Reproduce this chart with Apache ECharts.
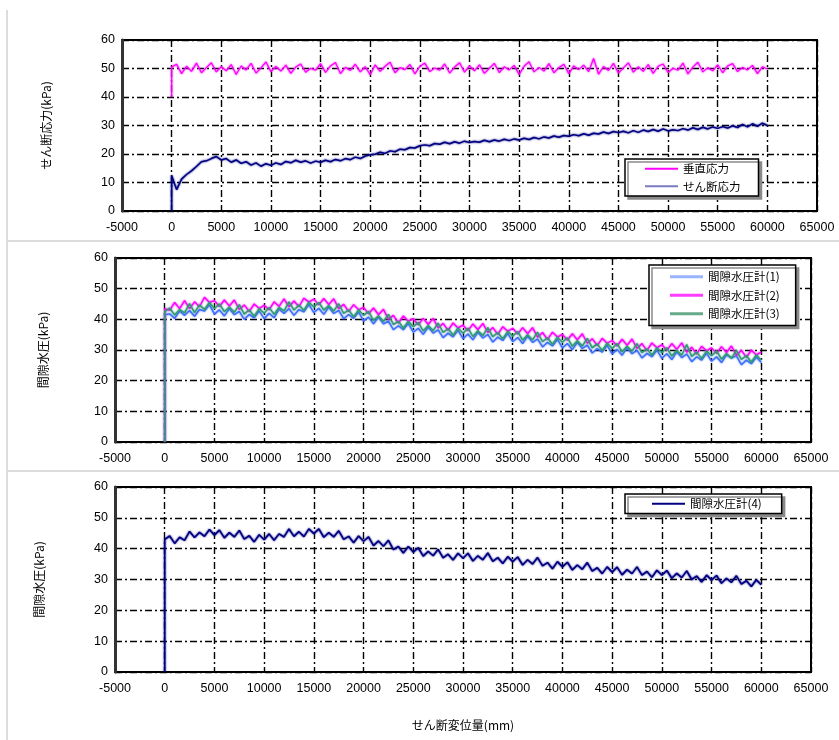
<!DOCTYPE html>
<html><head><meta charset="utf-8">
<script src="https://cdn.jsdelivr.net/npm/echarts@6/dist/echarts.min.js"></script>
<style>html,body{margin:0;padding:0;background:#fff}#c{width:839px;height:740px}</style>
</head><body><div id="c"></div>
<script>
// shear displacement (mm); first two points are the start of loading at 0 mm
const disp = [0, 0,
  500,1000,1500,2000,2500,3000,3500,4000,4500,5000,
  5500,6000,6500,7000,7500,8000,8500,9000,9500,10000,
  10500,11000,11500,12000,12500,13000,13500,14000,14500,15000,
  15500,16000,16500,17000,17500,18000,18500,19000,19500,20000,
  20500,21000,21500,22000,22500,23000,23500,24000,24500,25000,
  25500,26000,26500,27000,27500,28000,28500,29000,29500,30000,
  30500,31000,31500,32000,32500,33000,33500,34000,34500,35000,
  35500,36000,36500,37000,37500,38000,38500,39000,39500,40000,
  40500,41000,41500,42000,42500,43000,43500,44000,44500,45000,
  45500,46000,46500,47000,47500,48000,48500,49000,49500,50000,
  50500,51000,51500,52000,52500,53000,53500,54000,54500,55000,
  55500,56000,56500,57000,57500,58000,58500,59000,59500,60000];

const verticalStress = [40, 50.5,
  51.5,48.2,50.8,49.0,51.9,48.5,50.3,52.0,48.8,50.6,
  49.2,51.4,47.9,50.9,49.5,51.8,48.4,50.2,52.3,48.9,
  50.7,49.1,51.2,48.3,50.5,51.6,48.7,50.1,49.4,51.7,
  48.6,50.9,52.1,48.2,50.4,49.3,51.5,48.8,50.6,47.8,
  51.3,49.0,50.8,52.2,48.5,50.3,49.6,51.4,48.1,50.7,
  51.9,48.9,50.2,49.4,51.6,48.4,50.5,52.0,48.7,50.9,
  49.2,51.3,48.3,50.1,51.8,48.6,50.6,49.5,51.1,47.9,
  50.8,52.4,48.8,50.4,49.1,51.7,48.5,50.3,51.5,48.2,
  50.9,49.6,51.2,48.9,53.5,48.0,50.7,49.3,51.8,48.4,
  50.2,52.0,48.7,50.6,49.0,51.4,48.3,50.8,51.6,48.6,
  50.1,49.4,51.9,48.1,50.5,52.2,48.8,50.3,49.2,51.3,
  48.5,50.9,51.7,48.9,50.4,49.5,51.1,48.2,50.6,49.8];

const shearStress = [0, 12.5,
  7.5,11.2,12.8,14.1,15.6,17.3,17.6,18.4,19.1,17.9,
  18.4,17.1,17.9,16.7,17.3,16.1,16.9,15.7,16.6,16.0,
  16.9,16.3,17.4,16.9,17.8,17.1,17.6,16.8,17.5,17.1,
  17.8,17.3,18.1,17.6,18.4,18.0,18.9,18.4,19.3,19.7,
  19.9,20.6,20.2,21.1,20.8,21.7,21.5,22.3,22.1,22.9,
  23.2,22.9,23.7,23.4,24.1,23.6,24.3,23.8,24.5,24.0,
  24.4,24.1,24.8,24.3,24.9,24.5,25.2,24.7,25.3,24.9,
  25.5,25.1,25.8,25.3,26.0,25.6,26.3,25.9,26.5,26.2,
  26.8,26.4,27.1,26.6,27.3,27.0,27.7,27.2,27.9,27.5,
  28.0,27.4,28.2,27.6,28.4,27.9,28.6,28.0,28.8,28.1,
  28.5,28.2,28.9,28.4,29.2,28.6,29.4,28.8,29.5,29.0,
  29.6,29.1,29.9,29.3,30.4,29.5,30.6,29.7,30.8,30.0];

const pore1 = [0, 41.5,
  41.8,40.3,42.7,41.3,42.9,41.0,43.2,42.7,44.8,41.7,
  43.1,41.1,43.5,41.5,42.6,40.0,41.6,40.5,42.8,40.2,
  42.0,40.5,43.4,41.9,43.5,41.3,43.2,42.4,44.9,42.2,
  43.6,41.6,44.0,41.9,42.9,40.2,41.6,40.3,42.4,39.5,
  40.7,38.5,40.7,38.5,39.4,36.6,37.9,36.6,38.7,35.8,
  37.1,35.1,37.5,35.5,36.6,34.0,35.5,34.3,36.5,33.7,
  35.2,33.3,35.8,33.9,35.1,32.6,34.2,33.1,35.4,32.7,
  34.1,32.1,34.5,32.5,33.6,31.0,32.5,31.3,33.5,30.7,
  32.1,30.1,32.5,30.5,31.6,29.0,30.5,29.3,31.5,28.7,
  30.2,28.3,30.7,28.8,29.9,27.4,28.9,27.8,30.0,27.3,
  28.8,26.9,29.4,27.5,28.7,26.2,27.8,26.7,29.0,26.3,
  27.8,25.9,28.4,27.4,28.1,25.2,26.7,25.5,27.7,25.9];

const pore2 = [0, 43.5,
  42.9,45.5,43.5,46.1,43.5,45.7,44.1,47.2,45.5,46.1,
  44.2,46.3,44.3,46.3,43.2,44.7,42.5,45.0,43.5,44.6,
  43.1,45.7,44.2,46.7,44.1,46.0,44.1,46.9,45.6,46.6,
  44.7,46.8,44.8,46.7,43.5,44.9,42.5,44.8,43.1,43.9,
  41.8,43.7,41.5,43.3,40.0,41.3,38.8,41.1,39.4,40.2,
  38.2,40.3,38.3,40.3,37.2,38.7,36.4,38.8,37.2,38.1,
  36.3,38.5,36.6,38.7,35.7,37.3,35.1,37.6,36.1,37.1,
  35.2,37.3,35.3,37.3,34.2,35.7,33.4,35.8,34.2,35.1,
  33.2,35.3,33.3,35.3,32.2,33.7,31.4,33.8,32.2,33.1,
  31.3,33.5,31.5,33.6,30.5,32.1,29.8,32.3,30.7,31.7,
  29.9,32.1,30.2,32.3,29.3,30.9,28.7,31.2,29.7,30.7,
  28.9,31.1,29.2,31.3,28.3,29.9,27.6,30.0,28.4,29.3];

const pore3 = [0, 42.5,
  43.7,41.4,43.2,42.1,45.1,42.2,44.7,43.2,45.5,43.5,
  45.0,42.5,44.0,42.3,44.8,41.7,43.1,41.0,43.5,42.0,
  43.9,41.6,43.9,42.7,45.7,43.0,44.7,42.9,45.6,44.0,
  45.5,43.0,44.5,42.7,45.1,41.9,43.1,40.8,43.1,41.3,
  42.6,39.6,41.2,39.3,41.6,38.3,39.4,37.1,39.4,37.6,
  39.0,36.2,38.0,36.3,38.8,35.7,37.0,34.8,37.2,35.5,
  37.1,34.4,36.3,34.7,37.3,34.3,35.7,33.6,36.1,34.5,
  36.0,33.2,35.0,33.3,35.8,32.7,34.0,31.8,34.2,32.5,
  34.0,31.2,33.0,31.3,33.8,30.7,32.0,29.8,32.2,30.5,
  32.1,29.4,31.2,29.6,32.1,29.1,30.4,28.3,30.7,29.1,
  30.7,28.0,29.9,28.3,31.8,27.9,29.3,27.2,29.7,28.1,
  29.7,27.0,28.9,27.3,29.9,26.9,28.2,26.0,28.4,26.7];

const pore4 = [0, 43.0,
  44.1,41.7,43.7,42.7,45.6,43.6,45.3,44.0,46.2,44.4,
  46.0,43.5,45.2,43.8,45.9,43.1,44.2,42.2,44.5,42.9,
  44.8,42.7,44.8,43.8,46.4,44.0,45.5,43.9,46.4,44.9,
  46.4,43.7,45.2,43.8,45.8,43.0,44.0,41.9,44.1,42.4,
  43.8,41.0,42.5,40.8,42.7,39.7,40.7,38.6,40.7,38.9,
  40.3,37.6,39.1,37.7,39.8,37.0,38.2,36.3,38.5,36.9,
  38.5,36.0,37.7,36.4,38.6,35.9,37.1,35.2,37.4,35.8,
  37.3,34.7,36.4,35.0,37.1,34.4,35.5,33.5,35.8,34.1,
  35.6,33.1,34.7,33.3,35.5,32.7,33.8,31.9,34.1,32.4,
  34.0,31.5,33.2,31.9,34.1,31.4,32.6,30.7,33.0,31.4,
  32.9,30.4,32.0,30.6,32.8,30.0,31.1,29.2,31.4,29.8,
  31.3,28.8,30.4,29.1,31.2,28.5,29.6,27.7,29.9,28.3];

const xRange = {min: -5000, max: 65000, interval: 5000};
const yRange = {min: 0, max: 60, interval: 10};

const NUM = "'Liberation Sans', Arial, sans-serif";
const CJK = "'Noto Sans CJK JP', sans-serif";

function pts(v) { return disp.map((x, i) => [x, v[i]]); }

const split = {show: true, lineStyle: {color: '#000', width: 1.4, type: [7, 3, 2, 3]}};

function xAx(i, extra) {
  return Object.assign({
    gridIndex: i, type: 'value', min: xRange.min, max: xRange.max, interval: xRange.interval,
    axisLine: {show: false}, axisTick: {show: false},
    axisLabel: {color: '#000', fontSize: 12.5, fontFamily: NUM, margin: 10,
      formatter: v => String(v)},
    splitLine: split
  }, extra || {});
}
function yAx(i, name, gap) {
  return {
    gridIndex: i, type: 'value', min: yRange.min, max: yRange.max, interval: yRange.interval,
    axisLine: {show: true, onZero: false, lineStyle: {color: '#333', width: 3}},
    axisTick: {show: false},
    axisLabel: {color: '#000', fontSize: 12.5, fontFamily: NUM, margin: 7},
    splitLine: split,
    name: name, nameLocation: 'middle', nameGap: gap, nameRotate: 90,
    nameTextStyle: {color: '#000', fontSize: 12, fontFamily: CJK}
  };
}
function line(name, xi, vals, color, w) {
  return {
    type: 'line', name: name, xAxisIndex: xi, yAxisIndex: xi, data: pts(vals),
    symbol: 'none', showSymbol: false, clip: true,
    lineStyle: {color: color, width: w || 1.3, shadowColor: color, shadowBlur: 2},
    itemStyle: {color: color}
  };
}
const legendBase = {
  orient: 'vertical', icon: 'rect', itemWidth: 33, itemHeight: 2,
  backgroundColor: '#fff', borderColor: '#000', borderWidth: 1.5,
  shadowColor: '#8a8a8a', shadowOffsetX: 3, shadowOffsetY: 3, shadowBlur: 0,
  textStyle: {color: '#000', fontSize: 11.5, fontFamily: CJK},
  itemGap: 6, selectedMode: false
};

const chart = echarts.init(document.getElementById('c'), null, {renderer: 'canvas'});
chart.setOption({
  animation: false,
  backgroundColor: '#fff',
  graphic: [
    {type: 'line', shape: {x1: 7, y1: 10, x2: 7, y2: 740}, style: {stroke: '#dcdcdc', lineWidth: 2}},
    {type: 'line', shape: {x1: 7, y1: 241, x2: 839, y2: 241}, style: {stroke: '#dcdcdc', lineWidth: 2}},
    {type: 'line', shape: {x1: 7, y1: 471, x2: 839, y2: 471}, style: {stroke: '#dcdcdc', lineWidth: 2}}
  ],
  grid: [
    {left: 122, top: 40, width: 695, height: 171, show: true, borderColor: '#000', borderWidth: 2, backgroundColor: '#fff'},
    {left: 115, top: 258, width: 696, height: 184, show: true, borderColor: '#000', borderWidth: 2, backgroundColor: '#fff'},
    {left: 115, top: 487, width: 696, height: 185, show: true, borderColor: '#000', borderWidth: 2, backgroundColor: '#fff'}
  ],
  xAxis: [
    xAx(0), xAx(1),
    xAx(2, {name: 'せん断変位量(mm)', nameLocation: 'middle', nameGap: 47,
      nameTextStyle: {color: '#000', fontSize: 12, fontFamily: CJK}})
  ],
  yAxis: [
    yAx(0, 'せん断応力(kPa)', 70),
    yAx(1, '間隙水圧(kPa)', 66),
    yAx(2, '間隙水圧(kPa)', 70)
  ],
  legend: [
    Object.assign({}, legendBase, {
      left: 625, top: 159, padding: [4, 18, 4, 20],
      data: [{name: '垂直応力', itemStyle: {color: '#ff00ff'}},
             {name: 'せん断応力', itemStyle: {color: '#7b7bc4'}}]
    }),
    Object.assign({}, legendBase, {
      left: 649, top: 265, padding: [6, 16, 6, 21], itemGap: 7, itemHeight: 3,
      data: [{name: '間隙水圧計(1)', itemStyle: {color: '#99b3ff'}},
             {name: '間隙水圧計(2)', itemStyle: {color: '#ff3cff'}},
             {name: '間隙水圧計(3)', itemStyle: {color: '#66aa88'}}]
    }),
    Object.assign({}, legendBase, {
      left: 625, top: 494, padding: [4, 20, 4, 27], itemHeight: 2,
      data: [{name: '間隙水圧計(4)', itemStyle: {color: '#000080'}}]
    })
  ],
  series: [
    line('垂直応力', 0, verticalStress, '#ff00ff', 1.2),
    line('せん断応力', 0, shearStress, '#000080', 1.5),
    line('間隙水圧計(1)', 1, pore1, '#3d6cff', 1.4),
    line('間隙水圧計(2)', 1, pore2, '#ff00ff', 1.4),
    line('間隙水圧計(3)', 1, pore3, '#2f9a72', 1.4),
    line('間隙水圧計(4)', 2, pore4, '#000080', 1.6)
  ]
});
</script>
</body></html>
